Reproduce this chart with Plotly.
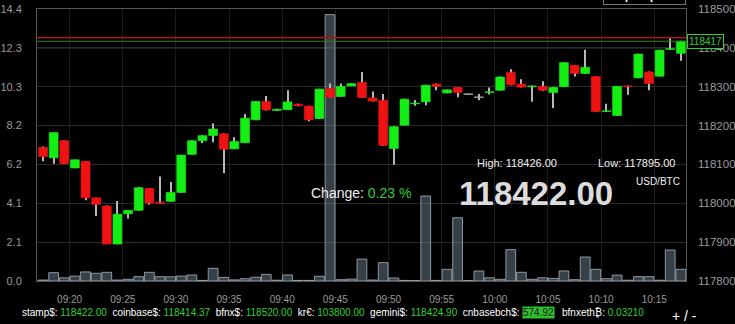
import plotly.graph_objects as go

# ---------------- data ----------------
times = ["09:17", "09:18", "09:19", "09:20", "09:21", "09:22", "09:23", "09:24", "09:25", "09:26",
         "09:27", "09:28", "09:29", "09:30", "09:31", "09:32", "09:33", "09:34", "09:35", "09:36",
         "09:37", "09:38", "09:39", "09:40", "09:41", "09:42", "09:43", "09:44", "09:45", "09:46",
         "09:47", "09:48", "09:49", "09:50", "09:51", "09:52", "09:53", "09:54", "09:55", "09:56",
         "09:57", "09:58", "09:59", "10:00", "10:01", "10:02", "10:03", "10:04", "10:05", "10:06",
         "10:07", "10:08", "10:09", "10:10", "10:11", "10:12", "10:13", "10:14", "10:15", "10:16",
         "10:17"]

opens = [118144, 118117, 118161, 118091, 118108, 118014, 117993, 117895, 117973, 117982,
         118038, 118003, 118005, 118028, 118126, 118161, 118174, 118179, 118140, 118156,
         118215, 118262, 118239, 118241, 118255, 118250, 118218, 118295, 118275, 118302,
         118311, 118271, 118265, 118141, 118201, 118256, 118261, 118307, 118284, 118298,
         118280, 118272, 118285, 118291, 118337, 118307, 118300, 118301, 118285, 118300,
         118355, 118334, 118326, 118236, 118226, 118302, 118323, 118338, 118327, 118396,
         118386]
highs = [118146, 118183, 118162, 118113, 118109, 118015, 117994, 118006, 117982, 118042,
         118039, 118069, 118055, 118125, 118162, 118175, 118206, 118180, 118170, 118230,
         118263, 118276, 118243, 118291, 118256, 118251, 118295, 118308, 118308, 118309,
         118338, 118288, 118281, 118198, 118269, 118266, 118305, 118308, 118293, 118299,
         118281, 118281, 118298, 118326, 118345, 118319, 118303, 118314, 118299, 118363,
         118356, 118395, 118327, 118256, 118302, 118303, 118385, 118339, 118395, 118426,
         118418]
lows = [118108, 118102, 118101, 118090, 118008, 117967, 117895, 117895, 117961, 117981,
        117997, 117999, 118004, 118027, 118125, 118155, 118157, 118078, 118139, 118155,
        118214, 118239, 118238, 118240, 118250, 118211, 118217, 118272, 118274, 118301,
        118271, 118262, 118148, 118099, 118200, 118251, 118252, 118291, 118283, 118273,
        118279, 118265, 118280, 118290, 118304, 118298, 118261, 118289, 118245, 118299,
        118326, 118333, 118235, 118235, 118225, 118279, 118322, 118291, 118326, 118395,
        118367]
closes = [118120, 118182, 118102, 118112, 118014, 117997, 117895, 117972, 117982, 118040,
          118001, 118000, 118028, 118124, 118161, 118174, 118191, 118139, 118159, 118219,
          118262, 118240, 118242, 118261, 118251, 118215, 118294, 118273, 118301, 118308,
          118272, 118263, 118149, 118197, 118268, 118258, 118304, 118301, 118292, 118285,
          118280, 118272, 118287, 118325, 118305, 118299, 118302, 118291, 118298, 118362,
          118334, 118350, 118236, 118238, 118301, 118300, 118384, 118308, 118394, 118398,
          118417]
volumes = [0.05, 0.44, 0.17, 0.26, 0.48, 0.41, 0.46, 0.05, 0.09, 0.23,
           0.46, 0.23, 0.22, 0.26, 0.32, 0.03, 0.67, 0.19, 0.06, 0.12,
           0.20, 0.35, 0.04, 0.32, 0.03, 0.03, 0.25, 14.1, 0.07, 0.10,
           1.16, 0.05, 0.97, 0.16, 0.03, 0.02, 4.50, 0.03, 0.62, 3.35,
           0.02, 0.53, 0.17, 0.09, 1.66, 0.46, 0.09, 0.17, 0.14, 0.53,
           0.07, 1.27, 0.62, 0.12, 0.31, 0.04, 0.23, 0.23, 0.04, 1.64,
           0.62]

vol_max = 14.4
vol_tick_labels = ["0.0", "2.1", "4.1", "6.2", "8.2", "10.3", "12.3", "14.4"]
price_min, price_max = 117800, 118500
ref_line_price = 118400

last_price = 118422.00
last_label = 118417
high_price = 118426.00
low_price = 117895.00
change_pct = 0.23
pair = "USD/BTC"

ticker_names = ["stamp$:", "coinbase$:", "bfnx$:", "kr€:", "gemini$:", "cnbasebch$:", "bfnxeth₿:"]
ticker_values = ["118422.00", "118414.37", "118520.00", "103800.00", "118424.90", "574.92", "0.03210"]
highlighted = "cnbasebch$:"

# ---------------- styling ----------------
GREEN = "#14ee14"
RED = "#ee1212"
TXT_GREEN = "#33cc33"
DAY = "2024-01-01 "
FONT = "Liberation Sans, Arial, sans-serif"
NB = "\u00a0"

x = [DAY + t for t in times]
body_base = [min(o, c) for o, c in zip(opens, closes)]
body_len = [max(abs(c - o), 2) for o, c in zip(opens, closes)]
body_col = [GREEN if c > o else (RED if c < o else "#aaaaaa") for o, c in zip(opens, closes)]
wick_len = [h - l for h, l in zip(highs, lows)]

MIN_MS = 60000

fig = go.Figure()

# volume bars (left axis)
fig.add_trace(go.Bar(
    x=x, y=volumes, yaxis="y", xperiod=MIN_MS, xperiodalignment="middle",
    width=0.92 * MIN_MS,
    marker=dict(color="rgba(100,116,128,0.55)", line=dict(color="rgba(165,180,192,0.8)", width=1)),
    hoverinfo="skip", showlegend=False))

# wicks (price axis)
fig.add_trace(go.Bar(
    x=x, y=wick_len, base=lows, yaxis="y2", xperiod=MIN_MS, xperiodalignment="middle",
    width=0.1 * MIN_MS, marker=dict(color="#b8b8b8", line=dict(width=0)),
    hoverinfo="skip", showlegend=False))

# bodies
fig.add_trace(go.Bar(
    x=x, y=body_len, base=body_base, yaxis="y2", xperiod=MIN_MS, xperiodalignment="middle",
    width=0.84 * MIN_MS, marker=dict(color=body_col, line=dict(color=body_col, width=0.6)),
    hoverinfo="skip", showlegend=False))

# reference / high / last lines
fig.add_shape(type="line", xref="paper", x0=0, x1=1, yref="y2", y0=ref_line_price, y1=ref_line_price,
              line=dict(color="#505050", width=1), layer="below")
fig.add_shape(type="line", xref="paper", x0=0, x1=1, yref="y2", y0=high_price, y1=high_price,
              line=dict(color="#b01010", width=1.3))
fig.add_shape(type="line", xref="paper", x0=0, x1=1, yref="y2", y0=last_label, y1=last_label,
              line=dict(color="#1f8a1f", width=1))

ann = []
# price tag
ann.append(dict(x=1, xref="paper", y=last_label, yref="y2", xanchor="left", yanchor="middle",
                xshift=1, text=str(last_label), showarrow=False,
                font=dict(family=FONT, size=10, color=TXT_GREEN),
                bgcolor="#000000", bordercolor=TXT_GREEN, borderwidth=1, borderpad=1))
# graph options button (cut off at top)
ann.append(dict(x=1, xref="paper", y=1.0147, yref="paper", xanchor="right", yanchor="bottom",
                text="<b>Graph Options</b>", showarrow=False,
                font=dict(family=FONT, size=11, color="#ffffff"),
                bgcolor="#000000", bordercolor="#777777", borderwidth=1, borderpad=2))
# change
ann.append(dict(x=0.419, xref="paper", y=0.3235, yref="paper", xanchor="left", yanchor="middle",
                text="Change: <span style='color:%s'>%.2f %%</span>" % (TXT_GREEN, change_pct),
                showarrow=False, font=dict(family=FONT, size=14, color="#eeeeee")))
# high / low
ann.append(dict(x=0.675, xref="paper", y=0.434, yref="paper", xanchor="left", yanchor="middle",
                text="High: %.2f" % high_price, showarrow=False,
                font=dict(family=FONT, size=11, color="#f0f0f0")))
ann.append(dict(x=0.861, xref="paper", y=0.434, yref="paper", xanchor="left", yanchor="middle",
                text="Low: %.2f" % low_price, showarrow=False,
                font=dict(family=FONT, size=11, color="#f0f0f0")))
ann.append(dict(x=0.9938, xref="paper", y=0.3676, yref="paper", xanchor="right", yanchor="middle",
                text=pair, showarrow=False, font=dict(family=FONT, size=10, color="#f0f0f0")))
# big price
ann.append(dict(x=0.647, xref="paper", y=0.3235, yref="paper", xanchor="left", yanchor="middle",
                text="<b>%.2f</b>" % last_price, showarrow=False,
                font=dict(family=FONT, size=33, color="#dcdcdc")))

# bottom ticker: part before highlight, highlight box, part after
TY = -0.1176
hi = ticker_names.index(highlighted)


def pair_txt(n, v):
    return "%s <span style='color:%s'>%s</span>" % (n, TXT_GREEN, v)


first = (NB * 2).join(pair_txt(n, v) for n, v in zip(ticker_names[:hi], ticker_values[:hi]))
first += NB * 2 + ticker_names[hi]
last = (NB * 2).join(pair_txt(n, v) for n, v in zip(ticker_names[hi + 1:], ticker_values[hi + 1:]))

ann.append(dict(x=-0.0262, xref="paper", y=TY, yref="paper", xanchor="left", yanchor="middle",
                text=first, showarrow=False, font=dict(family=FONT, size=10, color="#ffffff")))
ann.append(dict(x=0.7474, xref="paper", y=TY, yref="paper", xanchor="left", yanchor="middle",
                text=ticker_values[hi], showarrow=False, bgcolor="#2fbf2f", borderpad=0,
                font=dict(family=FONT, size=10, color="#1a1a1a")))
ann.append(dict(x=0.806, xref="paper", y=TY, yref="paper", xanchor="left", yanchor="middle",
                text=last, showarrow=False, font=dict(family=FONT, size=10, color="#ffffff")))
ann.append(dict(x=0.975, xref="paper", y=TY - 0.01, yref="paper", xanchor="left", yanchor="middle",
                text="+ / -", showarrow=False, font=dict(family=FONT, size=14, color="#ffffff")))

fig.update_layout(
    template="none",
    width=735, height=324,
    margin=dict(l=37, r=49, t=9, b=43, pad=0, autoexpand=False),
    paper_bgcolor="#000000", plot_bgcolor="#000000",
    barmode="overlay", showlegend=False,
    font=dict(family=FONT, color="#9a9a9a"),
    xaxis=dict(type="date", range=[DAY + "09:16:56", DAY + "10:17:59"],
               dtick=5 * MIN_MS, tickformat="%H:%M", automargin=False,
               showgrid=True, gridcolor="#1c1c1c", gridwidth=1,
               showline=True, linecolor="#555555", mirror=True,
               ticks="", ticklabelstandoff=9,
               tickfont=dict(family=FONT, size=10, color="#9a9a9a"), zeroline=False),
    yaxis=dict(range=[0, vol_max], side="left", automargin=False,
               tickvals=[vol_max * k / 7 for k in range(8)], ticktext=vol_tick_labels,
               showgrid=True, gridcolor="#2a2a2a", gridwidth=1,
               showline=True, linecolor="#555555", mirror=True,
               ticks="", ticklabelstandoff=12,
               tickfont=dict(family=FONT, size=11, color="#9a9a9a"), zeroline=False),
    yaxis2=dict(range=[price_min, price_max], overlaying="y", side="right", automargin=False,
                dtick=100, tickformat="d", showgrid=False,
                ticks="", ticklabelstandoff=11,
                tickfont=dict(family=FONT, size=11.5, color="#9a9a9a"), zeroline=False),
    annotations=ann,
)

fig.write_html("out.html")
